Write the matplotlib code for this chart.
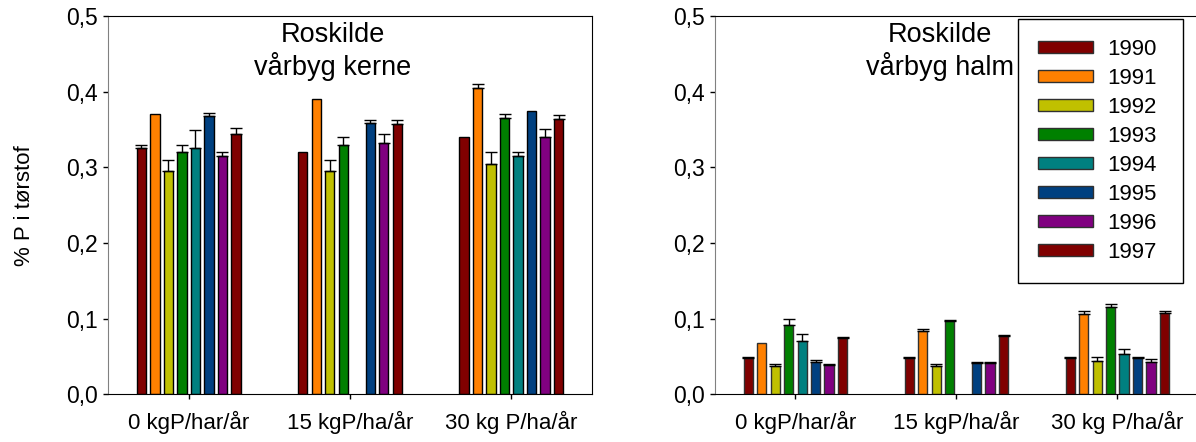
import numpy as np
import matplotlib
matplotlib.use("Agg")
import matplotlib.pyplot as plt

plt.rcParams["font.family"] = ["Liberation Sans", "DejaVu Sans"]

# --- data ---------------------------------------------------------------
doses = ["0 kgP/har/år", "15 kgP/ha/år", "30 kg P/ha/år"]
years = ["1990", "1991", "1992", "1993", "1994", "1995", "1996", "1997"]
year_colors = ["#800000", "#FF8000", "#C0C000", "#008000",
               "#008080", "#004080", "#800080", "#800000"]

# grain (kerne): one row per year, one column per dose
kerne = [
    [0.325, 0.320, 0.340],
    [0.370, 0.390, 0.405],
    [0.295, 0.295, 0.305],
    [0.320, 0.330, 0.365],
    [0.325, np.nan, 0.315],
    [0.368, 0.358, 0.374],
    [0.315, 0.332, 0.340],
    [0.344, 0.357, 0.364],
]
kerne_err = [
    [0.005, np.nan, np.nan],
    [np.nan, np.nan, 0.005],
    [0.015, 0.015, 0.015],
    [0.010, 0.010, 0.005],
    [0.025, np.nan, 0.005],
    [0.004, 0.005, np.nan],
    [0.005, 0.012, 0.011],
    [0.008, 0.005, 0.005],
]

# straw (halm)
halm = [
    [0.048, 0.048, 0.048],
    [0.068, 0.084, 0.106],
    [0.038, 0.037, 0.044],
    [0.092, 0.097, 0.115],
    [0.070, np.nan, 0.053],
    [0.043, 0.042, 0.048],
    [0.039, 0.042, 0.043],
    [0.075, 0.077, 0.107],
]
halm_err = [
    [0.002, 0.001, 0.001],
    [np.nan, 0.003, 0.004],
    [0.002, 0.003, 0.005],
    [0.008, 0.002, 0.004],
    [0.010, np.nan, 0.007],
    [0.002, 0.001, 0.001],
    [0.001, 0.001, 0.004],
    [0.001, 0.001, 0.003],
]

ytick_vals = [0.0, 0.1, 0.2, 0.3, 0.4, 0.5]
ytick_labels = ["0,0", "0,1", "0,2", "0,3", "0,4", "0,5"]

FS = 16
STEP = 0.0836   # distance between neighbouring bars inside a group
WIDTH = 0.058


def draw_panel(ax, values, errors, title, edge="black"):
    x = np.arange(len(doses))
    for i, (vals, errs) in enumerate(zip(values, errors)):
        xi = x + (i - 3.5) * STEP
        vals = np.asarray(vals, dtype=float)
        errs = np.asarray(errs, dtype=float)
        ax.bar(xi, vals, width=WIDTH, color=year_colors[i],
               edgecolor=edge, linewidth=1.0, label=years[i], zorder=2)
        ok = ~np.isnan(errs) & ~np.isnan(vals)
        if ok.any():
            # only the upper half of the error bar is shown
            ax.errorbar(xi[ok], vals[ok],
                        yerr=[np.zeros(ok.sum()), errs[ok]],
                        fmt="none", ecolor="black", elinewidth=1.0,
                        capsize=4, capthick=1.0, zorder=3)

    ax.set_xlim(-0.5, 2.5)
    ax.set_ylim(0, 0.5)
    ax.set_xticks(x)
    ax.set_xticklabels(doses, fontsize=FS)
    ax.set_yticks(ytick_vals)
    ax.set_yticklabels(ytick_labels, fontsize=16.5)
    ax.tick_params(direction="out", length=3.6, width=1.0)
    ax.tick_params(axis="x", pad=8)
    ax.tick_params(axis="y", pad=4)
    ax.spines["left"].set_color("#808080")
    for s in ["top", "right", "bottom"]:
        ax.spines[s].set_color("black")
    ax.text(0.465, 0.985, title, transform=ax.transAxes, ha="center",
            va="top", fontsize=19.5, linespacing=1.2)


fig = plt.figure(figsize=(11.96, 4.42), dpi=100)
ax1 = fig.add_axes([0.0903, 0.1075, 0.4047, 0.8563])
ax2 = fig.add_axes([0.5978, 0.1075, 0.4038, 0.8563])

draw_panel(ax1, kerne, kerne_err, "Roskilde\nvårbyg kerne")
draw_panel(ax2, halm, halm_err, "Roskilde\nvårbyg halm", edge="#303030")

ax1.set_ylabel("% P i tørstof", fontsize=FS, labelpad=22)

# legend box is wider than its content in the original -> expand mode
leg = ax2.legend(loc="upper left", bbox_to_anchor=(0.627, 0.297, 0.342, 0.695),
                 mode="expand", fontsize=FS, frameon=True, fancybox=False,
                 shadow=False, handlelength=2.5, handleheight=0.5,
                 handletextpad=0.63, labelspacing=0.36, borderpad=0.9,
                 borderaxespad=0)
leg.get_frame().set_edgecolor("black")
leg.get_frame().set_linewidth(1.0)
leg.get_frame().set_alpha(1)

fig.savefig("out.png", dpi=100)
